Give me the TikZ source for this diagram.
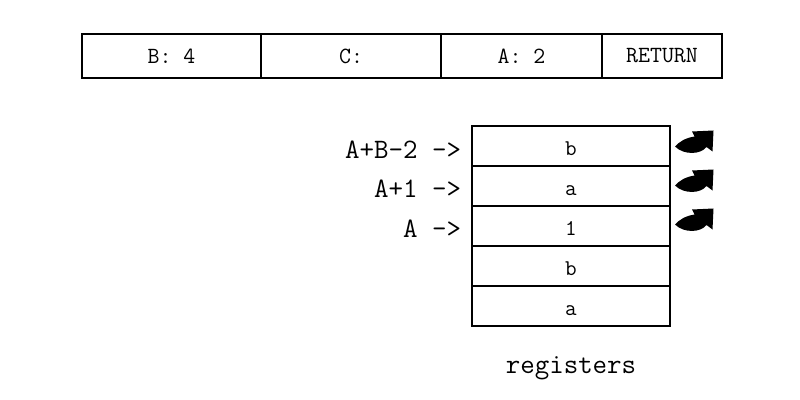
\documentclass[tikz,border=0pt]{standalone}
\usepackage{fontspec}
\begin{document}
\begin{tikzpicture}[x=0.025cm, y=-0.025cm, line width=1.4pt,
  frame/.style={draw, outer sep=0pt, inner sep=0pt, minimum height=1.1cm, font=\ttfamily\fontsize{16.5}{18}\selectfont},
  reg/.style={draw, outer sep=0pt, inner sep=0pt, minimum width=4.95cm, minimum height=1cm, text height=0.45cm, text depth=0pt, font=\ttfamily\fontsize{16}{18}\selectfont},
  pointer/.style={anchor=east, inner sep=0pt, font=\ttfamily\fontsize{20}{22}\selectfont},
  curl/.pic={\fill (0,16.5) .. controls (4,12) and (10,8) .. (19.5,6.5) -- (17,1.5) -- (38.5,0.5) -- (37.5,21.5) -- (31.5,17) .. controls (26,24.5) and (9,25.5) .. (0,16.5) -- cycle;}]
\useasboundingbox (0,0) rectangle (800,400);
% frame on top
\node[frame, minimum width=4.475cm] (f1) at (171.5,56) {B: 4};
\node[frame, minimum width=4.5cm] (f2) at (351,56) {C:};
\node[frame, minimum width=4.025cm] (f3) at (521.5,56) {A: 2};
\node[frame, minimum width=3cm] (f4) at (662,56) {RETURN};
% register stack
\node[reg] (r1) at (571,146) {b};
\node[reg] (r2) at (571,186) {a};
\node[reg] (r3) at (571,226) {1};
\node[reg] (r4) at (571,266) {b};
\node[reg] (r5) at (571,306) {a};
\node[anchor=base, inner sep=0pt, font=\ttfamily\fontsize{20}{22}\selectfont] (regs) at (571,373) {registers};
% pointers
\node[pointer] (p1) at (462,150) {A+B-2 ->};
\node[pointer] (p2) at (462,189) {A+1 ->};
\node[pointer] (p3) at (462,229) {A ->};
% arrows on the right
\pic at (675,130) {curl};
\pic at (675,169) {curl};
\pic at (675,208) {curl};
\end{tikzpicture}
\end{document}
